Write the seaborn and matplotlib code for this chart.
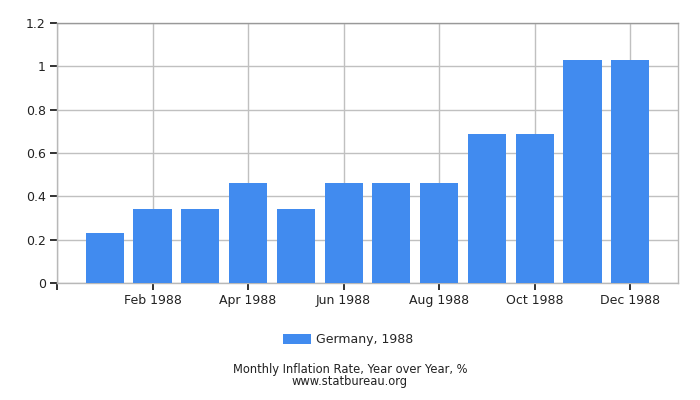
import matplotlib
matplotlib.use("Agg")
import matplotlib.pyplot as plt
import seaborn as sns
import pandas as pd

months = ["Jan 1988", "Feb 1988", "Mar 1988", "Apr 1988", "May 1988", "Jun 1988",
          "Jul 1988", "Aug 1988", "Sep 1988", "Oct 1988", "Nov 1988", "Dec 1988"]
values = [0.23, 0.34, 0.34, 0.46, 0.34, 0.46, 0.46, 0.46, 0.69, 0.69, 1.03, 1.03]
series_name = "Germany, 1988"
y_ticks = [0, 0.2, 0.4, 0.6, 0.8, 1, 1.2]
y_tick_labels = ["0", "0.2", "0.4", "0.6", "0.8", "1", "1.2"]
x_tick_labels = ["", "Feb 1988", "Apr 1988", "Jun 1988", "Aug 1988", "Oct 1988", "Dec 1988"]

df = pd.DataFrame({"month": months, "value": values, "series": series_name})

sns.set_style("white")
plt.rcParams["font.family"] = ["DejaVu Sans"]

fig = plt.figure(figsize=(7, 4), dpi=100)
ax = fig.add_axes([57/700, 1 - 283/400, (678-57)/700, (283-23)/400])

bar_color = "#418bef"
sns.barplot(data=df, x="month", y="value", hue="series", palette=[bar_color],
            saturation=1, width=0.8, ax=ax, zorder=3, legend=True,
            edgecolor="none", linewidth=0)

ax.set_xlim(-1, 12)
ax.set_ylim(0, 1.2)
ax.set_yticks(y_ticks)
ax.set_yticklabels(y_tick_labels, fontsize=9, color="#222222")
ax.set_xticks([-1, 1, 3, 5, 7, 9, 11])
ax.set_xticklabels(x_tick_labels, fontsize=9, color="#222222")
ax.set_xlabel("")
ax.set_ylabel("")

ax.grid(True, color="#c0c0c0", linewidth=1)
ax.set_axisbelow(True)
for s in ax.spines.values():
    s.set_color("#b8b8b8")
    s.set_linewidth(1)
ax.spines["top"].set_color("#999999")
ax.tick_params(axis="both", which="major", bottom=True, left=True, direction="out",
               length=5, width=1.2, color="#111111", pad=3)

leg = ax.get_legend()
handles = leg.legend_handles
leg.remove()
fig.legend(handles, [series_name], loc="center", bbox_to_anchor=(348/700, 1 - 340/400),
           frameon=False, fontsize=9, handlelength=2.2, handleheight=0.8, handletextpad=0.4)

fig.text(350/700, 1 - 370/400, "Monthly Inflation Rate, Year over Year, %",
         ha="center", va="center", fontsize=8.3, color="#222222")
fig.text(350/700, 1 - 381.5/400, "www.statbureau.org",
         ha="center", va="center", fontsize=8.3, color="#222222")

fig.savefig("out.png", dpi=100)
